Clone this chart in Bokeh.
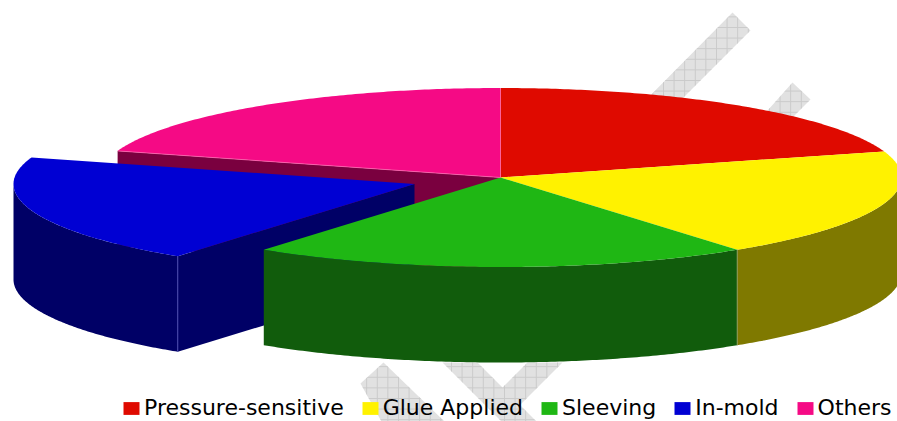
import math
from bokeh.plotting import figure
from bokeh.models import Range1d, Legend, LegendItem
from bokeh.embed import file_html
from bokeh.resources import INLINE

# ---- data (shares of the pie, percent)
categories = ["Pressure-sensitive", "Glue Applied", "Sleeving", "In-mold", "Others"]
shares = [20.3, 19.65, 20.1, 19.75, 20.2]
exploded = [False, False, False, True, False]

top_colors = ["#df0a00", "#fff200", "#1fb714", "#0000d3", "#f50a85"]
wall_colors = ["#700500", "#7f7900", "#115c0c", "#000066", "#7a003f"]

# ---- background watermark outlines
wm_band_a_x = [732, 750, 683, 670, 630]
wm_band_a_y = [12, 30, 97, 115, 115]
wm_band_b_x = [792, 810, 780, 750]
wm_band_b_y = [82, 99, 129, 129]
wm_left_x = [383, 360, 381, 444]
wm_left_y = [362, 383, 421, 421]
wm_v_x = [442, 501, 536, 519.5, 562, 527, 502, 477]
wm_v_y = [362, 421, 421, 404.5, 362, 362, 387, 362]

# ---- layout
CX, CY = 500.0, 177.0
RX, RY = 401.0, 89.5
DEPTH = 95.5
EXPL_X, EXPL_Y = -86.0, 6.5

p = figure(width=897, height=421, output_backend="svg", toolbar_location=None,
           x_range=Range1d(0, 897), y_range=Range1d(421, 0),
           min_border=0, outline_line_color=None, background_fill_color="white")
p.axis.visible = False
p.grid.visible = False

for wx, wy in [(wm_band_a_x, wm_band_a_y), (wm_band_b_x, wm_band_b_y), (wm_left_x, wm_left_y), (wm_v_x, wm_v_y)]:
    p.patch(wx, wy, fill_color="#e1e1e1", line_color=None,
            hatch_pattern="cross", hatch_scale=10.6, hatch_color="#cacaca", hatch_weight=1)


def pt(a, ox=0.0, oy=0.0, d=0.0):
    r = math.radians(a)
    return CX + ox + RX * math.sin(r), CY + oy - RY * math.cos(r) + d


def arc(a1, a2, ox=0.0, oy=0.0, d=0.0, n=120):
    pts = [pt(a1 + (a2 - a1) * i / n, ox, oy, d) for i in range(n + 1)]
    return [q[0] for q in pts], [q[1] for q in pts]


# angles from the shares
edges = [0.0]
for s in shares:
    edges.append(edges[-1] + s / sum(shares) * 360.0)
spans = [(edges[i], edges[i + 1]) for i in range(len(shares))]
offs = [(EXPL_X, EXPL_Y) if e else (0.0, 0.0) for e in exploded]


def top(i):
    a1, a2 = spans[i]
    ox, oy = offs[i]
    xs, ys = arc(a1, a2, ox, oy)
    return p.patch(xs + [CX + ox], ys + [CY + oy], fill_color=top_colors[i], line_color=None)


def outer(i):
    a1, a2 = spans[i]
    a1, a2 = max(a1, 90.0), min(a2, 270.0)
    ox, oy = offs[i]
    xs, ys = arc(a1, a2, ox, oy)
    xb, yb = arc(a2, a1, ox, oy, DEPTH)
    p.patch(xs + xb, ys + yb, fill_color=wall_colors[i], line_color=None)


def radial_wall(i, edge):
    ox, oy = offs[i]
    x, y = pt(edge, ox, oy)
    p.patch([x, CX + ox, CX + ox, x], [y, CY + oy, CY + oy + DEPTH, y + DEPTH],
            fill_color=wall_colors[i], line_color=None)


tops = {}
radial_wall(4, spans[4][0])
tops[4] = top(4)
tops[0] = top(0)
outer(1)
tops[1] = top(1)
outer(3)
radial_wall(3, spans[3][0])
tops[3] = top(3)
outer(2)
tops[2] = top(2)

# thin light seams on slice edges
x0, y0 = pt(spans[4][0])
p.line([x0, CX], [y0, CY], line_color="#ff6db4", line_width=1, line_alpha=0.7)
p.line([CX, CX], [CY - RY, CY], line_color="#ff6db4", line_width=1, line_alpha=0.7)
bx, by = pt(spans[3][0], EXPL_X, EXPL_Y)
p.line([bx, bx], [by, by + DEPTH], line_color="#4a4ab0", line_width=1)
gx, gy = pt(spans[2][0])
p.line([gx, gx], [gy, gy + DEPTH], line_color="#8f9a5a", line_width=1)

legend = Legend(
    items=[LegendItem(label=categories[i], renderers=[tops[i]]) for i in range(5)],
    orientation="horizontal", location=(121, 1), spacing=16, padding=0, margin=0,
    glyph_width=20, glyph_height=16, label_standoff=3, label_height=13,
    background_fill_alpha=0, border_line_color=None,
    label_text_font="DejaVu Sans", label_text_font_size="22px", label_text_color="#000000",
)
p.add_layout(legend, "center")

open("out.html", "w").write(file_html(p, INLINE))
